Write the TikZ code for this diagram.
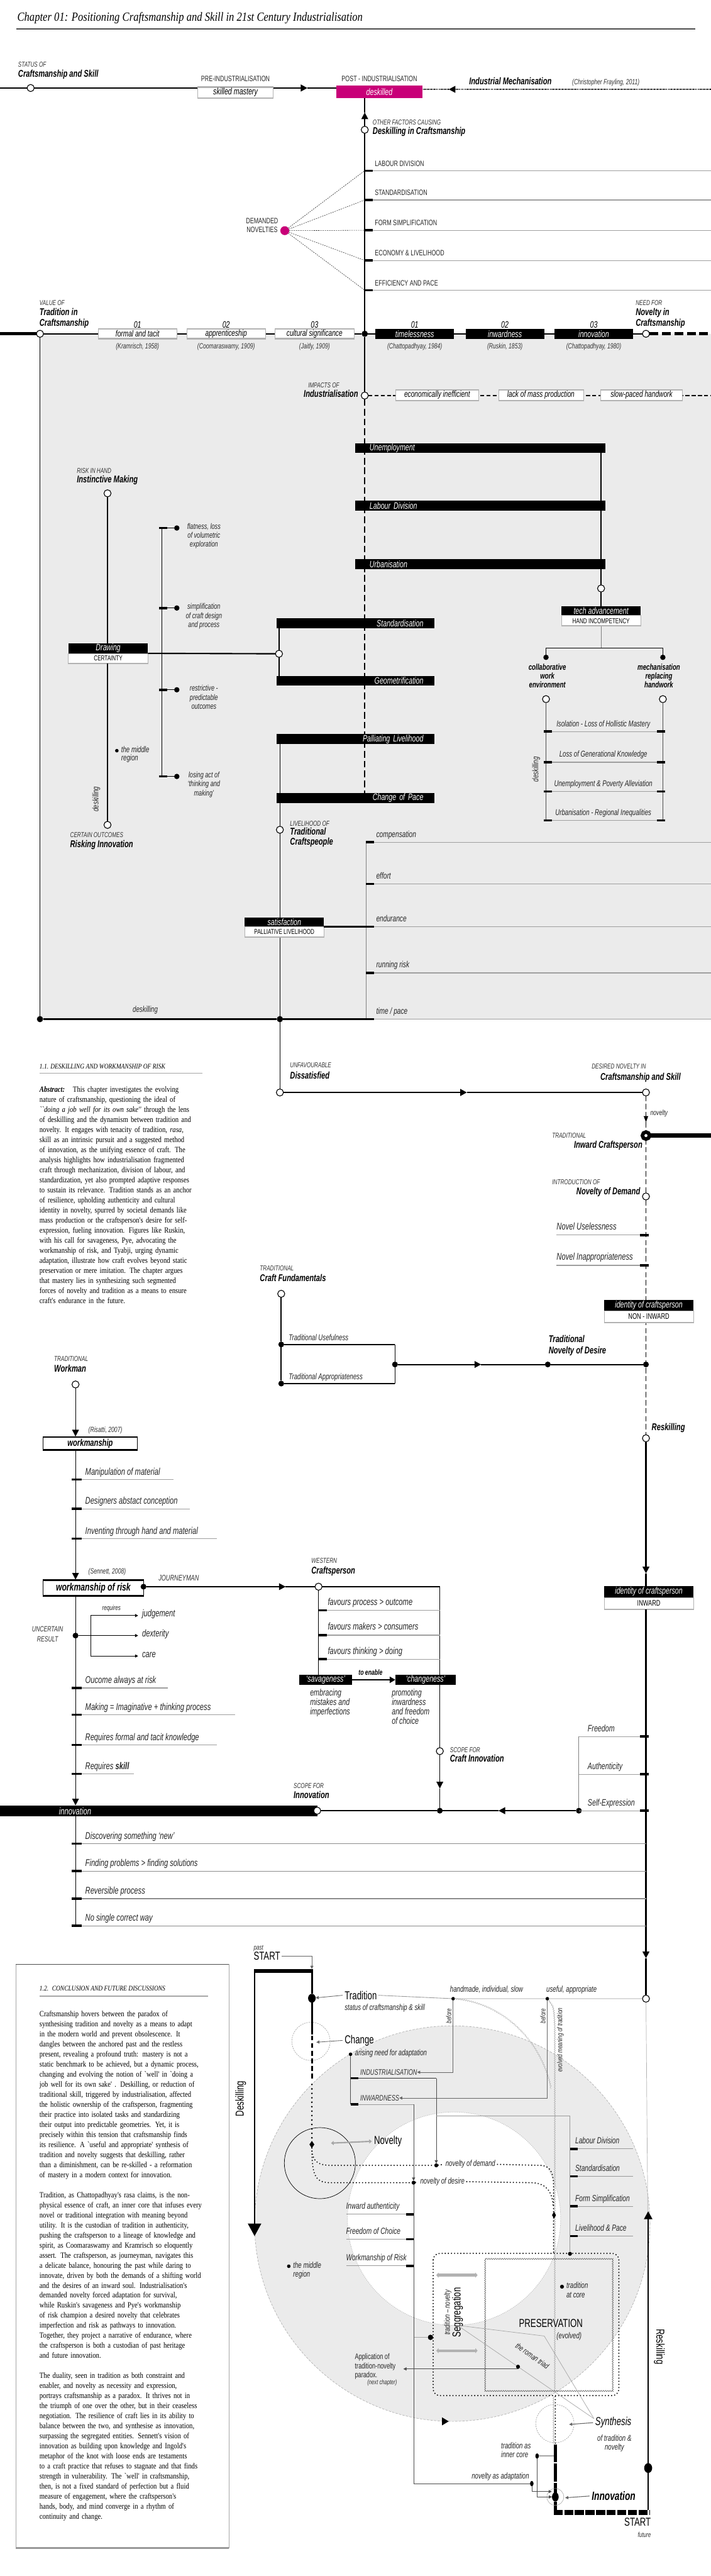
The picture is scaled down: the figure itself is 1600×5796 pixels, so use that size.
\documentclass[tikz,border=0pt]{standalone}
\usepackage{fontspec}
\setmainfont{Liberation Sans}[FakeStretch=0.72]
\newfontfamily\serf{Liberation Serif}[FakeStretch=0.84]
\usepackage{tikz}
\usetikzlibrary{shapes.geometric,arrows.meta,positioning,calc,decorations.pathmorphing}

\definecolor{bgray}{HTML}{EBEBEB}
\definecolor{deskpink}{RGB}{200,0,120}
\newcommand\jl[1]{\makebox[\linewidth][s]{#1}}

\begin{document}
\begin{tikzpicture}[x=1pt, y=-1pt,
  every node/.style={inner sep=0pt, outer sep=0pt},
  kicker/.style={font=\fontsize{16}{18}\selectfont\itshape, text=black!80, anchor=mid west},
  heading/.style={font=\fontsize{22}{24}\selectfont\bfseries\itshape, anchor=mid west},
  caps/.style={font=\fontsize{17.5}{19}\selectfont, text=black!85, anchor=mid west},
  lbl/.style={font=\fontsize{19}{21}\selectfont\itshape, text=black!85, anchor=mid west},
  lbig/.style={font=\fontsize{22}{24}\selectfont\itshape, text=black!85, anchor=mid west},
  cite/.style={font=\fontsize{17}{19}\selectfont\itshape, text=black!80},
  bigtxt/.style={font=\fontsize{26}{28}\selectfont, anchor=mid west},
  bodytxt/.style={font=\serf\fontsize{18}{22.6}\selectfont, align=left, anchor=north west},
  onode/.style={circle, draw, line width=1.6pt, fill=white, minimum size=16pt},
  fnode/.style={circle, fill=black, minimum size=14pt},
  sdot/.style={circle, fill=black, minimum size=9pt},
  wbox/.style={draw=gray!60, line width=1pt, fill=white, font=\fontsize{20}{22}\selectfont\itshape,
    path picture={\draw[line width=5pt] (path picture bounding box.north west) -- (path picture bounding box.north east);
      \draw[gray!60, line width=4pt] (path picture bounding box.south west) -- (path picture bounding box.south east);}},
  kbox/.style={draw, line width=1.2pt, fill=white, font=\fontsize{22}{24}\selectfont\bfseries\itshape,
    path picture={\draw[line width=6pt] (path picture bounding box.north west) -- (path picture bounding box.north east)
      (path picture bounding box.south west) -- (path picture bounding box.south east);}},
  bbox/.style={fill=black, text=white, font=\fontsize{21}{23}\selectfont\itshape},
  capbox/.style={draw=gray!60, line width=1pt, fill=white, font=\fontsize{16}{18}\selectfont,
    path picture={\draw[gray!60, line width=4pt] (path picture bounding box.south west) -- (path picture bounding box.south east);}},
  heavy/.style={line width=3.5pt},
  gline/.style={gray!75, line width=1.6pt},
  atip/.style={-{Triangle[length=15pt,width=15pt]}},
  satip/.style={-{Triangle[length=7pt,width=7pt]}},
  dotst/.style={line width=3pt, dash pattern=on 0pt off 7pt, line cap=round},
  wavy/.style={decorate, decoration={snake, amplitude=1.4pt, segment length=5pt}}]

% page and shaded field
\fill[white, use as bounding box] (0,0) rectangle (1600,5796);
\fill[bgray] (90,751) rectangle (1600,2293);

% title
\node[font=\serf\itshape\fontsize{28}{30}\selectfont, anchor=mid west] (title) at (39,45) {Chapter 01: Positioning Craftsmanship and Skill in 21st Century Industrialisation};
\draw[black!70, line width=2.5pt] (37,65) -- (1565,65);

% status of craftsmanship
\node[kicker] (stk) at (41,148) {STATUS OF};
\node[heading] (sth) at (41,170) {Craftsmanship and Skill};
\node[onode] (s0) at (69,198) {};
\node[wbox, minimum width=170, minimum height=26, font=\fontsize{21}{23}\selectfont\itshape] (pre) at (530,208) {skilled mastery};
\node[caps, anchor=mid] (prel) at (530,180) {PRE-INDUSTRIALISATION};
\node[fill=deskpink, text=white, font=\fontsize{21}{23}\selectfont\itshape, minimum width=194, minimum height=29] (desk) at (854,206.5) {deskilled};
\node[caps, anchor=mid] (postl) at (854,180) {POST - INDUSTRIALISATION};
\draw[heavy] (0,198) -- (s0) (s0) -- (s0 -| pre.west);
\draw[heavy, atip] (s0 -| pre.east) -- (692,198);
\draw[heavy] (692,198) -- (s0 -| desk.west);
\coordinate (mech) at (1600,201);
\draw[line width=3pt, dash pattern=on 2pt off 1.5pt, atip] (mech) -- (1010,201);
\draw[line width=3pt, dash pattern=on 2pt off 1.5pt] (1010,201) -- (desk.east |- mech);
\node[heading] (mechl) at (1056,187) {Industrial Mechanisation};
\node[cite, anchor=mid west] (fray) at (1288,187) {(Christopher Frayling, 2011)};

% other factors causing deskilling
\node[fnode] (tc) at (821,751) {};
\node[onode] (oth) at (821,292) {};
\node[onode] (ind) at (821,890) {};
\draw[line width=2.5pt] (tc) -- (oth);
\draw[line width=2.5pt] (tc) -- (ind);
\draw[line width=2.5pt, atip] (oth) -- (821,253);
\draw[line width=2.5pt] (821,253) -- (oth |- desk.south);
\node[kicker] (othk) at (839,278) {OTHER FACTORS CAUSING};
\node[heading] (othh) at (839,300) {Deskilling in Craftsmanship};
\node[circle, fill=deskpink, minimum size=20pt] (dem) at (641,519) {};
\node[caps, anchor=mid east, align=center, font=\fontsize{17.5}{20}\selectfont] (deml) at (626,520) {DEMANDED\\NOVELTIES};
\foreach \y/\lab [count=\i] in {384/LABOUR DIVISION, 450/STANDARDISATION, 518/FORM SIMPLIFICATION, 586/ECONOMY \& LIVELIHOOD, 653/EFFICIENCY AND PACE}{
  \coordinate (f\i) at (821,\y);
  \draw[gline] (f\i) -- (1600,\y);
  \fill (821,\y-2.5) rectangle (839,\y+2.5);
  \node[caps] (fl\i) at (844,\y-13) {\lab};
  \draw[black!80, line width=0.8pt, dash pattern=on 3pt off 2pt] (dem) -- (f\i);
}

% tradition and novelty line
\node[onode] (tv) at (90,751) {};
\node[onode] (nv) at (1454,751) {};
\draw[line width=7pt] (0,751) -- (tv);
\draw[line width=2.5pt] (tv) -- (tc) -- (nv);
\draw[line width=7pt, dash pattern=on 20pt off 8pt] (nv) -- (1600,751);
\foreach \x/\lab/\cit [count=\i] in {309.5/formal and tacit/{(Kramrisch, 1958)}, 509/apprenticeship/{(Coomaraswamy, 1909)}, 708/cultural significance/{(Jaitly, 1909)}}{
  \node[wbox, minimum width=177, minimum height=23] (tb\i) at (\x,751) {\lab};
  \node[font=\fontsize{21}{23}\selectfont\itshape] (tnum\i) at (\x,730) {0\i};
  \node[cite] (tcit\i) at (\x,780) {\cit};
}
\foreach \x/\lab/\cit [count=\i] in {933.5/timelessness/{(Chattopadhyay, 1984)}, 1136.5/inwardness/{(Ruskin, 1853)}, 1336.5/innovation/{(Chattopadhyay, 1980)}}{
  \node[bbox, minimum width=177, minimum height=23] (nb\i) at (\x,751) {\lab};
  \node[font=\fontsize{21}{23}\selectfont\itshape] (nnum\i) at (\x,730) {0\i};
  \node[cite] (ncit\i) at (\x,780) {\cit};
}
\node[kicker] (valk) at (89,685) {VALUE OF};
\node[heading] (valh1) at (89,707) {Tradition in};
\node[heading] (valh2) at (89,731) {Craftsmanship};
\node[kicker] (needk) at (1431,685) {NEED FOR};
\node[heading] (needh1) at (1431,707) {Novelty in};
\node[heading] (needh2) at (1431,731) {Craftsmanship};

% impacts of industrialisation
\draw[line width=2.5pt, dash pattern=on 15pt off 7pt] (ind) -- (821,1785);
\draw[line width=3.5pt, dash pattern=on 9pt off 5pt] (ind) -- (1600,890);
\node[kicker] (impk) at (694,870) {IMPACTS OF};
\node[heading, anchor=mid east] (imph) at (806,891) {Industrialisation};
\foreach \x/\w/\lab [count=\i] in {984/186/economically inefficient, 1217.5/191/lack of mass production, 1444/184/slow-paced handwork}
  \node[wbox, minimum width=\w, minimum height=26] (imp\i) at (\x,889) {\lab};

\foreach \y/\lab/\n in {1008/Unemployment/unemp, 1138/Labour Division/labd, 1269.5/Urbanisation/urb}
  \node[bbox, minimum width=564, minimum height=22, text width=498, align=left] (\n) at (1081,\y) {\lab};
\foreach \y/\lab/\n in {1402.5/Standardisation/stan, 1531.5/Geometrification/geom, 1663/Palliating Livelihood/pall, 1795.5/Change of Pace/chp}
  \node[bbox, minimum width=356, minimum height=22, text width=306, align=right] (\n) at (800,\y) {\lab};

% tech advancement branch
\node[bbox, minimum width=178, minimum height=21] (tech) at (1353,1374.5) {tech advancement};
\node[capbox, minimum width=178, minimum height=24, below=0pt of tech] (hand) {HAND INCOMPETENCY};
\node[onode] (tech0) at (1353,1324) {};
\draw[line width=2pt] (unemp.south -| tech) -- (labd.north -| tech) (labd.south -| tech) -- (urb.north -| tech) (urb.south -| tech) -- (tech0) -- (tech);
\coordinate (br) at (1353,1458);
\draw[gray, line width=1pt] (hand) -- (br);
\node[fnode, minimum size=12pt] (cw) at (1229,1479) {};
\node[fnode, minimum size=12pt] (mr) at (1492,1479) {};
\draw[line width=2pt] (cw) |- (br) -| (mr);
\node[font=\fontsize{19}{19.5}\selectfont\bfseries\itshape, align=center, anchor=north] (cwl) at (1232,1494) {collaborative\\work\\environment};
\node[font=\fontsize{19}{19.5}\selectfont\bfseries\itshape, align=center, anchor=north] (mrl) at (1483,1494) {mechanisation\\replacing\\handwork};
\node[onode] (cw2) at (1229,1573) {};
\node[onode] (mr2) at (1492,1573) {};
\draw[black!70, line width=1pt] (cw2) -- (1229,1846);
\draw[black!70, line width=1pt] (mr2) -- (1492,1846);
\foreach \y/\lab in {1646/Isolation - Loss of Hollistic Mastery, 1715/Loss of Generational Knowledge, 1781/Unemployment \& Poverty Alleviation, 1846/Urbanisation - Regional Inequalities}{
  \draw[gline] (1229,\y) -- (1492,\y);
  \fill (1224,\y-2.5) rectangle (1243,\y+2.5);
  \fill (1478,\y-2.5) rectangle (1497,\y+2.5);
  \node[lbl, anchor=mid] at (1358,\y-14) {\lab};
}
\node[lbl, rotate=90, anchor=mid] (dsk2) at (1209,1731) {deskilling};

% instinctive making
\node[kicker] (rik) at (173,1062) {RISK IN HAND};
\node[heading] (rih) at (173,1083) {Instinctive Making};
\node[onode] (im) at (242,1110) {};
\node[bbox, minimum width=179, minimum height=22] (drw) at (243.5,1459) {Drawing};
\node[capbox, below=0pt of drw, minimum width=179, minimum height=23] (cert) {CERTAINTY};
\node[onode] (ri) at (242,1856) {};
\draw[line width=2pt] (im) -- (im |- drw.north);
\draw[line width=2pt] (cert.south -| ri) -- (ri);
\node[kicker] (cok) at (158,1882) {CERTAIN OUTCOMES};
\node[heading] (coh) at (158,1904) {Risking Innovation};
\node[lbl, rotate=90, anchor=mid] (dsk1) at (219,1798) {deskilling};
\node[sdot, minimum size=8pt] (midr) at (263,1689) {};
\node[lbl, align=left, anchor=north west, font=\fontsize{19}{17}\selectfont\itshape] (midl) at (273,1680) {the middle\\region};
\draw[line width=1.5pt] (364,1188) -- (364,1749);
\foreach \y/\lab [count=\i] in {1188/{flatness, loss\\of volumetric\\exploration}, 1368/{simplification\\of craft design\\and process}, 1552/{restrictive -\\predictable\\outcomes}, 1747/{losing act of\\`thinking and\\making'}}{
  \node[sdot, minimum size=12pt] (rk\i) at (398,\y) {};
  \draw[line width=1.5pt] (364,\y) -- (rk\i);
  \fill (358,\y-2.5) rectangle (377,\y+2.5);
  \node[lbl, align=center, anchor=north, font=\fontsize{18}{20}\selectfont\itshape] (rkl\i) at (459,\y-10) {\lab};
}

% drawing to standardisation
\node[onode] (dr) at (628,1471) {};
\draw[line width=3pt] (drw.south east) -- (dr);
\draw[line width=2pt] (stan.south -| dr) -- (dr) -- (geom.north -| dr);

% livelihood of traditional craftspeople
\node[onode] (tcr) at (630,1867) {};
\node[fnode] (d1) at (90,2293) {};
\node[fnode] (d2) at (630,2293) {};
\node[onode] (dis) at (630,2458) {};
\draw[line width=2pt] (tv) -- (d1);
\draw[line width=2pt] (pall.south -| tcr) -- (chp.north -| tcr);
\draw[line width=2pt] (chp.south -| tcr) -- (tcr) -- (d2) -- (dis);
\draw[line width=4pt] (d1) -- (d2) -- (830,2293);
\node[kicker] (lok) at (653,1856) {LIVELIHOOD OF};
\node[heading] (loh1) at (653,1876) {Traditional};
\node[heading] (loh2) at (653,1899) {Craftspeople};
\draw[gray, line width=1pt] (824,1895) -- (824,2293);
\foreach \y/\lab in {1895/compensation, 1989/effort, 2085/endurance, 2189/running risk, 2293/time \slash\ pace}{
  \draw[gline] (824,\y) -- (1600,\y);
  \fill (824,\y-2.5) rectangle (842,\y+2.5);
  \node[lbl, font=\fontsize{20}{22}\selectfont\itshape] at (847,\y-14) {\lab};
}
\node[bbox, minimum width=178, minimum height=21] (sat) at (640,2074.5) {satisfaction};
\node[capbox, below=0pt of sat, minimum width=178, minimum height=24] (pal) {PALLIATIVE LIVELIHOOD};
\draw[line width=3pt] (sat.south east) -- (824,2085);
\node[lbl, anchor=mid] (dsk3) at (327,2275) {deskilling};

% section 1.1 and abstract
\node[font=\serf\itshape\fontsize{16}{18}\selectfont, anchor=mid west] (s11) at (89,2402) {1.1. DESKILLING AND WORKMANSHIP OF RISK};
\draw[gray!70, line width=2pt] (89,2415) -- (455,2415);
\node[bodytxt, text width=366] (abs) at (89,2445) {\jl{\textbf{\textit{Abstract:}}\quad This chapter investigates the evolving}\\
\jl{nature of craftsmanship, questioning the ideal of}\\
\jl{\textit{``doing a job well for its own sake''} through the lens}\\
\jl{of deskilling and the dynamism between tradition and}\\
\jl{novelty. It engages with tenacity of tradition, \textit{rasa},}\\
\jl{skill as an intrinsic pursuit and a suggested method}\\
\jl{of innovation, as the unifying essence of craft. The}\\
\jl{analysis highlights how industrialisation fragmented}\\
\jl{craft through mechanization, division of labour, and}\\
\jl{standardization, yet also prompted adaptive responses}\\
\jl{to sustain its relevance. Tradition stands as an anchor}\\
\jl{of resilience, upholding authenticity and cultural}\\
\jl{identity in novelty, spurred by societal demands like}\\
\jl{mass production or the craftsperson's desire for self-}\\
\jl{expression, fueling innovation. Figures like Ruskin,}\\
\jl{with his call for savageness, Pye, advocating the}\\
\jl{workmanship of risk, and Tyabji, urging dynamic}\\
\jl{adaptation, illustrate how craft evolves beyond static}\\
\jl{preservation or mere imitation. The chapter argues}\\
\jl{that mastery lies in synthesizing such segmented}\\
\jl{forces of novelty and tradition as a means to ensure}\\
craft's endurance in the future.};

% desired novelty
\node[kicker] (unk) at (653,2400) {UNFAVOURABLE};
\node[heading] (unh) at (653,2425) {Dissatisfied};
\node[kicker] (dnk) at (1332,2402) {DESIRED NOVELTY IN};
\node[heading, anchor=mid east] (dnh) at (1532,2427) {Craftsmanship and Skill};
\node[onode] (des) at (1454,2458) {};
\draw[line width=4pt, atip] (dis) -- (1051,2458);
\draw[line width=4pt] (1051,2458) -- (des);
\node[circle, draw, line width=8pt, fill=white, minimum size=16pt] (iwc) at (1454,2555) {};
\node[onode] (nod) at (1454,2692) {};
\node[onode] (resk) at (1454,3236) {};
\draw[line width=1.5pt, dash pattern=on 12pt off 6pt, -{Triangle[length=14pt,width=10pt]}] (des) -- (1454,2525);
\draw[line width=1.5pt, dash pattern=on 12pt off 6pt] (1454,2525) -- (iwc) (iwc) -- (nod) -- (resk);
\draw[line width=10pt] (iwc) -- (1600,2555);
\node[lbl, font=\fontsize{17}{19}\selectfont\itshape] (novl) at (1464,2507) {novelty};
\node[kicker] (iwk) at (1243,2558) {TRADITIONAL};
\node[heading, anchor=mid east] (iwh) at (1446,2581) {Inward Craftsperson};
\node[kicker] (ndk) at (1243,2663) {INTRODUCTION OF};
\node[heading, anchor=mid east] (ndh) at (1441,2685) {Novelty of Demand};
\foreach \y/\lab in {2779/Novel Uselessness, 2847/Novel Inappropriateness}{
  \draw[gline] (1253,\y) -- (1454,\y);
  \fill (1440,\y-2.5) rectangle (1460,\y+2.5);
  \node[lbig] at (1253,\y-14) {\lab};
}
\node[bbox, minimum width=201, minimum height=24] (idn) at (1460.5,2937) {identity of craftsperson};
\node[capbox, below=0pt of idn, minimum width=201, minimum height=27, font=\fontsize{18}{20}\selectfont] (non) {NON - INWARD};

% craft fundamentals
\node[kicker] (cfk) at (585,2857) {TRADITIONAL};
\node[heading] (cfh) at (585,2880) {Craft Fundamentals};
\node[onode] (cf) at (633,2911) {};
\node[fnode, minimum size=13pt] (tu) at (633,3025) {};
\node[fnode, minimum size=13pt] (ta) at (633,3113) {};
\node[fnode, minimum size=13pt] (tf) at (889,3070) {};
\node[fnode, minimum size=13pt] (tnd) at (1233,3070) {};
\node[fnode, minimum size=13pt] (tnr) at (1454,3070) {};
\draw[line width=3pt] (cf) -- (tu) -- (ta);
\draw[line width=3pt] (tu) -- (tu -| tf) (ta -| tf) -- (ta);
\draw[line width=1.5pt] (tu -| tf) -- (ta -| tf);
\draw[line width=3pt, atip] (tf) -- (1083,3070);
\draw[line width=3pt] (1083,3070) -- (tnd) -- (tnr);
\node[lbl] (tul) at (650,3013) {Traditional Usefulness};
\node[lbl] (tal) at (650,3101) {Traditional Appropriateness};
\node[heading] (tndh1) at (1235,3018) {Traditional};
\node[heading] (tndh2) at (1235,3043) {Novelty of Desire};
\node[heading] (reskl) at (1467,3216) {Reskilling};

% workman
\node[kicker] (wmk) at (122,3060) {TRADITIONAL};
\node[heading] (wmh) at (122,3084) {Workman};
\node[onode] (wm) at (170,3115) {};
\node[kbox, minimum width=212, minimum height=31] (wkm) at (203,3247.5) {workmanship};
\node[kbox, minimum width=226, minimum height=38, font=\fontsize{24}{26}\selectfont\bfseries\itshape] (wkr) at (210,3573) {workmanship of risk};
\draw[line width=1.5pt, atip] (wm) -- (wm |- wkm.north);
\draw[line width=1.5pt, atip] (wkm.south -| wm) -- (wkr.north -| wm);
\node[cite, anchor=mid west] (ris) at (199,3220) {(Risatti, 2007)};
\node[cite, anchor=mid west] (sen) at (199,3539) {(Sennett, 2008)};
\foreach \y/\len/\lab in {3329/391/Manipulation of material, 3395/428/Designers abstact conception, 3462/488/Inventing through hand and material, 3798/378/Oucome always at risk, 3858/529/Making = Imaginative + thinking process, 3926/488/Requires formal and tacit knowledge, 3991/302/Requires \textbf{skill}}{
  \draw[gline] (170,\y) -- (\len,\y);
  \fill (162,\y-2.5) rectangle (184,\y+2.5);
  \node[lbig] at (192,\y-13) {\lab};
}

% uncertain result
\node[fnode, minimum size=13pt] (ur) at (170,3680) {};
\node[kicker, align=center, anchor=mid, font=\fontsize{17}{22}\selectfont\itshape] (url) at (107,3691) {UNCERTAIN\\RESULT};
\node[lbl, font=\fontsize{16}{18}\selectfont\itshape] (req) at (230,3620) {requires};
\draw[line width=1.5pt] (ur) -- (204,3680);
\draw[line width=1.5pt] (204,3635) -- (204,3726);
\foreach \y/\lab [count=\i] in {3635/judgement, 3680/dexterity, 3726/care}{
  \draw[line width=1.5pt, satip] (204,\y) -- (311,\y);
  \node[lbig] (uq\i) at (320,\y) {\lab};
}

% western craftsperson
\node[fnode, minimum size=13pt] (wr) at (323,3570) {};
\node[onode] (cp) at (717,3570) {};
\node[onode] (sci) at (990,3940) {};
\coordinate (cpr) at (990,3570);
\draw[line width=2.5pt, atip] (wr) -- (643,3570);
\draw[line width=2.5pt] (643,3570) -- (cp);
\draw[line width=2pt] (cp) -- (cpr);
\draw[line width=1.5pt] (cpr) -- (sci);
\node[kicker, font=\fontsize{18}{20}\selectfont\itshape] (jm) at (357,3554) {JOURNEYMAN};
\node[kicker] (wek) at (701,3515) {WESTERN};
\node[heading] (weh) at (701,3538) {Craftsperson};
\foreach \y/\lab in {3623/favours process > outcome, 3679/favours makers > consumers, 3733/favours thinking > doing}{
  \draw[gline] (717,\y) -- (990,\y);
  \fill (717,\y-2.5) rectangle (736,\y+2.5);
  \node[lbig] at (738,\y-14) {\lab};
}
\node[bbox, minimum width=120, minimum height=23] (sav) at (733,3779.5) {`savageness'};
\node[bbox, minimum width=136, minimum height=23] (chg) at (958,3779.5) {`changeness'};
\draw[line width=2pt] (cp) -- (cp |- sav.north);
\draw[line width=4pt, -{Triangle[length=13pt,width=14pt]}] (sav) -- (chg);
\node[font=\fontsize{17}{19}\selectfont\bfseries\itshape] (toen) at (834,3763) {to enable};
\node[lbig, align=left, anchor=north west, font=\fontsize{21}{21}\selectfont\itshape] (emb) at (698,3801) {embracing\\mistakes and\\imperfections};
\node[lbig, align=left, anchor=north west, font=\fontsize{21}{21}\selectfont\itshape] (pro) at (882,3801) {promoting\\inwardness\\and freedom\\of choice};

% identity inward, reskilling line
\node[bbox, minimum width=201, minimum height=25] (idi) at (1460.5,3581.5) {identity of craftsperson};
\node[capbox, below=0pt of idi, minimum width=201, minimum height=27, font=\fontsize{18}{20}\selectfont] (inw) {INWARD};
\node[onode] (tro) at (1454,4497) {};
\draw[line width=3pt, atip] (resk) -- (1454,3540);
\draw[line width=3pt] (1454,3540) -- (idi.north -| resk);
\draw[line width=3pt, atip] (inw.south -| resk) -- (1454,4406);
\draw[line width=3pt] (1454,4406) -- (tro);

% innovation
\node[bbox, minimum width=714, minimum height=25, text width=448, align=left, font=\fontsize{22}{24}\selectfont\itshape] (inb) at (357,4074.5) {innovation};
\node[onode] (inn) at (714,4074) {};
\draw[line width=1.5pt, atip] (wkr.south -| wm) -- (inb.north -| wm);
\draw[line width=1.5pt] (inb.south -| wm) -- (170,4333);
\node[kicker] (sik) at (661,4021) {SCOPE FOR};
\node[heading] (sih) at (661,4044) {Innovation};
\node[kicker] (sck) at (1013,3940) {SCOPE FOR};
\node[heading] (sch) at (1013,3961) {Craft Innovation};
\node[fnode, minimum size=13pt] (ci) at (990,4074) {};
\node[fnode, minimum size=13pt] (se) at (1303,4074) {};
\draw[line width=1.5pt, atip] (sci) -- (990,4024);
\draw[line width=1.5pt] (990,4024) -- (ci);
\draw[line width=3pt] (inn) -- (ci);
\draw[line width=3pt, atip] (se) -- (1122,4074);
\draw[line width=3pt] (1122,4074) -- (ci);
\draw[gray, line width=1pt] (1303,3907) -- (se);
\foreach \y/\lab in {3907/Freedom, 3992/Authenticity, 4074/Self-Expression}{
  \draw[gline] (1303,\y) -- (1454,\y);
  \fill (1440,\y-2.5) rectangle (1460,\y+2.5);
  \node[lbl, font=\fontsize{21}{23}\selectfont\itshape] at (1323,\y-14) {\lab};
}
\foreach \y/\lab in {4148/Discovering something `new', 4210/Finding problems > finding solutions, 4272/Reversible process, 4333/No single correct way}{
  \draw[gray!90, line width=1.6pt] (170,\y) -- (1454,\y);
  \fill (162,\y-2.5) rectangle (184,\y+2.5);
  \node[lbig] at (192,\y-13) {\lab};
}

% conclusion box
\draw[gray!70, line width=1pt] (36,4420) rectangle (515,5733);
\draw[black!70, line width=2pt] (36,4420) -- (515,4420);
\draw[gray!80, line width=3.5pt] (36,5733) -- (515,5733);
\node[font=\serf\itshape\fontsize{16}{18}\selectfont, anchor=mid west] (s12) at (89,4477) {1.2.\enspace CONCLUSION AND FUTURE DISCUSSIONS};
\draw[gray!70, line width=2pt] (89,4491) -- (468,4491);
\node[bodytxt, text width=379] (conc) at (89,4525) {\jl{Craftsmanship hovers between the paradox of}\\
\jl{synthesising tradition and novelty as a means to adapt}\\
\jl{in the modern world and prevent obsolescence. It}\\
\jl{dangles between the anchored past and the restless}\\
\jl{present, revealing a profound truth: mastery is not a}\\
\jl{static benchmark to be achieved, but a dynamic process,}\\
\jl{changing and evolving the notion of `well' in `doing a}\\
\jl{job well for its own sake' . Deskilling, or reduction of}\\
\jl{traditional skill, triggered by industrialisation, affected}\\
\jl{the holistic ownership of the craftsperson, fragmenting}\\
\jl{their practice into isolated tasks and standardizing}\\
\jl{their output into predictable geometries. Yet, it is}\\
\jl{precisely within this tension that craftsmanship finds}\\
\jl{its resilience. A `useful and appropriate' synthesis of}\\
\jl{tradition and novelty suggests that deskilling, rather}\\
\jl{than a diminishment, can be re-skilled - a reformation}\\
of mastery in a modern context for innovation.\\[22.6pt]
\jl{Tradition, as Chattopadhyay's rasa claims, is the non-}\\
\jl{physical essence of craft, an inner core that infuses every}\\
\jl{novel or traditional integration with meaning beyond}\\
\jl{utility. It is the custodian of tradition in authenticity,}\\
\jl{pushing the craftsperson to a lineage of knowledge and}\\
\jl{spirit, as Coomaraswamy and Kramrisch so eloquently}\\
\jl{assert. The craftsperson, as journeyman, navigates this}\\
\jl{a delicate balance, honouring the past while daring to}\\
\jl{innovate, driven by both the demands of a shifting world}\\
\jl{and the desires of an inward soul. Industrialisation's}\\
\jl{demanded novelty forced adaptation for survival,}\\
\jl{while Ruskin's savageness and Pye's workmanship}\\
\jl{of risk champion a desired novelty that celebrates}\\
\jl{imperfection and risk as pathways to innovation.}\\
\jl{Together, they project a narrative of endurance, where}\\
\jl{the craftsperson is both a custodian of past heritage}\\
and future innovation.\\[22.6pt]
\jl{The duality, seen in tradition as both constraint and}\\
\jl{enabler, and novelty as necessity and expression,}\\
\jl{portrays craftsmanship as a paradox. It thrives not in}\\
\jl{the triumph of one over the other, but in their ceaseless}\\
\jl{negotiation. The resilience of craft lies in its ability to}\\
\jl{balance between the two, and synthesise as innovation,}\\
\jl{surpassing the segregated entities. Sennett's vision of}\\
\jl{innovation as building upon knowledge and Ingold's}\\
\jl{metaphor of the knot with loose ends are testaments}\\
\jl{to a craft practice that refuses to stagnate and that finds}\\
\jl{strength in vulnerability. The `well' in craftsmanship,}\\
\jl{then, is not a fixed standard of perfection but a fluid}\\
\jl{measure of engagement, where the craftsperson's}\\
\jl{hands, body, and mind converge in a rhythm of}\\
continuity and change.};

% synthesis diagram: fields
\fill[bgray] (1018,5003) circle[radius=445pt];
\draw[gray!60, dash pattern=on 5pt off 3pt, line width=1pt] (1018,5003) circle[radius=445pt];
\fill[white] (1022,4992) circle[radius=240pt];
\draw[gray!55, dash pattern=on 2pt off 2pt, line width=1pt] (1022,4992) circle[radius=240pt];
\fill[bgray] (720,4867) circle[radius=80pt];
\draw[line width=1pt] (720,4867) circle[radius=80pt];
\draw[gray!70, dash pattern=on 3pt off 2pt, line width=1pt] (700,4593) circle[radius=43pt];
\draw[gray!70, dash pattern=on 3pt off 2pt, line width=1pt] (1249,5453) circle[radius=43pt];
\fill (1010,5448) -- (995,5439) -- (995,5457) -- cycle;

% start (past)
\node[kicker] (past) at (571,4385) {past};
\node[bigtxt] (start) at (571,4407) {START};
\fill (571,4430) rectangle (704,4439);
\coordinate (stop) at (702,4430);
\draw[gray!80!black, line width=1.2pt, satip] ([xshift=4pt]start.east) -| (stop);
\draw[line width=2pt, -{Triangle[length=28pt,width=30pt]}] (573,4439) -- (573,5031);
\node[bigtxt, rotate=90, anchor=mid] (deskv) at (546,4722) {Deskilling};

% tradition, change, novelty spine
\node[ellipse, fill=black, minimum width=17pt, minimum height=20pt] (tn) at (702,4496) {};
\node[diamond, fill=black, minimum width=11pt, minimum height=16pt] (nvn) at (702,4825) {};
\draw[line width=4pt] (702,4439) -- (tn) -- (702,4577);
\draw[line width=4pt, dash pattern=on 11pt off 6pt] (702,4580) -- (702,4680);
\draw[line width=4pt, dash pattern=on 0pt off 10pt, line cap=round] (702,4690) -- (nvn);
\node[bigtxt] (trad) at (776,4496) {Tradition};
\draw[gray!80!black, line width=1.2pt, satip] ([xshift=-5pt]trad.west) -- (tn);
\node[lbl] (trs) at (776,4521) {status of craftsmanship \& skill};
\node[sdot, minimum size=8pt] (ho) at (1020,4497) {};
\node[sdot, minimum size=8pt] (ua) at (1232,4497) {};
\draw[gray!80, line width=1.2pt] ([xshift=4pt]trad.east) -- (ho) -- (ua) -- (tro);
\node[lbl] (hol) at (1013,4480) {handmade, individual, slow};
\node[lbl] (ual) at (1230,4480) {useful, appropriate};
\node[lbl, rotate=90, anchor=south, font=\fontsize{16}{18}\selectfont\itshape] (bf1) at (1016,4536) {before};
\node[lbl, rotate=90, anchor=south, font=\fontsize{16}{18}\selectfont\itshape] (bf2) at (1228,4536) {before};
\node[lbl, rotate=90, anchor=mid, font=\fontsize{16}{18}\selectfont\itshape] (evm) at (1263,4590) {evolved meaning of tradition};
\draw[gray!70, line width=0.8pt, wavy] (ua) .. controls (1246,4515) .. (1248,4560) -- (1248,5380);
\draw[gray!60, line width=0.8pt, wavy] (ho) .. controls (1120,4505) and (1215,4580) .. (1240,4700);
\draw[gray!60, line width=1pt] (tro) -- (1458,4975);

\node[bigtxt] (chn) at (776,4595) {Change};
\draw[gray!80!black, line width=1.2pt, satip] ([xshift=-5pt]chn.west) -- (712,4595);
\node[sdot, minimum size=8pt] (ar) at (789,4622) {};
\node[lbl] (arl) at (799,4622) {arising need for adaptation};
\node[kicker, font=\fontsize{18}{20}\selectfont\itshape] (indl) at (811,4666) {INDUSTRIALISATION};
\node[kicker, font=\fontsize{18}{20}\selectfont\itshape] (inwl) at (811,4724) {INWARDNESS};
\draw[gray!80!black, line width=1.2pt, satip] (ho) |- (indl.east);
\draw[gray!80!black, line width=1.2pt, satip] (ua) |- (inwl.east);
\node[sdot] (nd) at (982,4872) {};
\node[sdot] (ndes) at (931,4911) {};
\draw[black!70, line width=1pt] (ar) -- (789,4735);
\draw[black!80, line width=1.5pt] (789,4676) -- (982,4676);
\fill (789,4673.5) rectangle (807,4678.5);
\draw[gray!80, line width=2pt] (789,4735) -- (931,4735);
\fill (789,4732.5) rectangle (807,4737.5);
\draw[black!70, line width=1pt, satip] (982,4676) -- (nd);
\draw[black!70, line width=1pt, satip] (931,4735) -- (ndes);

\node[bigtxt] (nvl) at (842,4822) {Novelty};
\draw[gray!70, line width=3pt, {Triangle[length=6pt,width=9pt]}-{Triangle[length=6pt,width=9pt]}] (745,4822) -- ([xshift=-5pt]nvl.west);
\node[lbl] (ndl) at (1003,4872) {novelty of demand};
\node[lbl] (nsl) at (946,4911) {novelty of desire};
\draw[dotst] (nvn) .. controls (702,4860) and (712,4872) .. (745,4872) -- (nd);
\draw[dotst] (nvn) .. controls (702,4900) and (712,4911) .. (745,4911) -- (ndes);
\draw[dotst] (nd) -- ([xshift=-4pt]ndl.west);
\draw[dotst] (ndes) -- ([xshift=-4pt]nsl.west);
\draw[dotst] ([xshift=5pt]ndl.east) -- (1215,4872) .. controls (1240,4872) and (1246,4890) .. (1246,4920) -- (1246,5070);
\draw[dotst] ([xshift=5pt]nsl.east) -- (1195,4911) .. controls (1228,4911) and (1243,4930) .. (1245,4962);
\node[diamond, fill=black, minimum width=9pt, minimum height=15pt] (dm) at (1247,4984) {};

% lists inside the ring
\node[sdot] (lp) at (1283,5071) {};
\draw[gray!80, line width=1pt] (982,4761) -| (lp);
\foreach \y/\lab in {4835/Labour Division, 4897/Standardisation, 4964/Form Simplification, 5031/Livelihood \& Pace}{
  \draw[gray!80, line width=1.6pt] (1283,\y) -- (1425,\y);
  \fill (1283,\y-2.5) rectangle (1301,\y+2.5);
  \node[lbl, font=\fontsize{20}{22}\selectfont\itshape] at (1295,\y-14) {\lab};
}
\foreach \y/\lab in {4982/Inward authenticity, 5038/Freedom of Choice, 5098/Workmanship of Risk}{
  \draw[gray!80, line width=1.6pt] (779,\y) -- (931,\y);
  \fill (914,\y-2.5) rectangle (933,\y+2.5);
  \node[lbl, font=\fontsize{20}{22}\selectfont\itshape] at (779,\y-14) {\lab};
}
\node[sdot, minimum size=8pt] (mid2) at (650,5099) {};
\node[lbl, align=left, anchor=north west, font=\fontsize{19}{21}\selectfont\itshape] (mid2l) at (660,5089) {the middle\\region};

% seggregation and preservation
\draw[dotst, rounded corners=15pt] (975,5070) rectangle (1393,5390);
\draw[gray!70!black, line width=0.8pt, wavy] (1092,5082) rectangle (1383,5380);
\node[lbl, rotate=90, anchor=mid, font=\fontsize{18}{20}\selectfont\itshape] (tnov) at (1010,5203) {tradition -- novelty};
\node[bigtxt, rotate=90, anchor=mid] (segg) at (1034,5203) {Seggregation};
\foreach \y in {5119,5289}
  \draw[gray!60, line width=6pt, {Triangle[length=5pt,width=11pt]}-{Triangle[length=5pt,width=11pt]}] (982,\y) -- (1075,\y);
\node[sdot, minimum size=12pt] (sg) at (969,5259) {};
\draw[gray!70, line width=2pt] (931,5259) -- (sg);
\node[sdot] (tac) at (1265,5145) {};
\node[lbl, align=left, anchor=north west, font=\fontsize{19}{21}\selectfont\itshape] (tacl) at (1275,5135) {tradition\\at core};
\node[bigtxt, anchor=mid] (pres) at (1240,5233) {PRESERVATION};
\node[lbl, anchor=mid] (evo) at (1281,5259) {(evolved)};
\coordinate (icb) at (1030,5232);
\coordinate (synp) at (1337,5442);
\draw[gray!70, line width=1pt] (icb) -- (1225,5256) -- (synp);
\draw[gray!70, line width=1pt] (icb) -- (synp);
\node[sdot, minimum size=9pt] (tri) at (1166,5325) {};
\node[lbl, rotate=-35, anchor=mid, font=\fontsize{18}{20}\selectfont\itshape] (tril) at (1196,5304) {the roman triad};
\node[lbl, align=left, anchor=north west, font=\fontsize{18}{20}\selectfont] (appl) at (799,5296) {Application of\\tradition-novelty\\paradox.};
\node[cite, anchor=mid west, font=\fontsize{15}{17}\selectfont\itshape] (nch) at (827,5362) {(next chapter)};
\draw[black!70, line width=1pt, satip] (tri) |- (908,5330);

% synthesis, innovation, future start
\draw[dotst] (1250,5392) -- (1250,5498);
\draw[gray!70, line width=0.8pt, wavy] (1246,5392) -- (1246,5498);
\node[bigtxt, font=\fontsize{26}{28}\selectfont\itshape] (syn) at (1340,5455) {Synthesis};
\draw[gray!80!black, line width=1.5pt, satip] ([xshift=-5pt]syn.west) -- (1281,5455);
\node[lbl, align=center, anchor=north, font=\fontsize{19}{20}\selectfont\itshape] (synl) at (1383,5478) {of tradition \&\\novelty};
\draw[line width=7pt, dash pattern=on 40pt off 3pt] (1250,5500) -- (1250,5657);
\draw[line width=10pt, dash pattern=on 20pt off 4pt] (1246,5653) -- (1463,5653);
\node[ellipse, fill=black, minimum width=18pt, minimum height=22pt] (rsn) at (1459,5553) {};
\draw[line width=4pt, -{Triangle[length=18pt,width=18pt]}] (1459,5648) -- (rsn) -- (1459,4975);
\node[bigtxt, rotate=-90, anchor=mid] (reskv) at (1480,5280) {Reskilling};
\node[ellipse, fill=black, minimum width=15pt, minimum height=21pt] (inv) at (1250,5618) {};
\draw[gray!70, line width=0.8pt] (1250,5618) circle[radius=19pt];
\node[bigtxt, font=\fontsize{27}{29}\selectfont\bfseries\itshape] (invl) at (1332,5623) {Innovation};
\draw[gray!80!black, line width=1.5pt, satip] ([xshift=-5pt]invl.west) -- (1272,5620);
\node[lbl, align=left, anchor=north west, font=\fontsize{19}{20}\selectfont\itshape] (ticl) at (1128,5496) {tradition as\\inner core};
\node[ellipse, fill=black, minimum width=8pt, minimum height=12pt] (tic) at (1209,5526) {};
\draw[gray!70, line width=2.5pt] (tic) -- (1246,5526);
\node[lbl, anchor=mid east] (nal) at (1191,5575) {novelty as adaptation};
\node[ellipse, fill=black, minimum width=8pt, minimum height=12pt] (na) at (1197,5588) {};
\draw[black!70, line width=1pt] (ndes) |- (na);
\draw[black!70, line width=1pt, satip] (tic.south) |- (inv.west);
\draw[black!70, line width=1pt, satip] (na.south) |- (1242,5606);
\node[bigtxt, anchor=mid east] (fstart) at (1465,5681) {START};
\node[kicker, anchor=mid east] (fut) at (1465,5706) {future};

\end{tikzpicture}
\end{document}
